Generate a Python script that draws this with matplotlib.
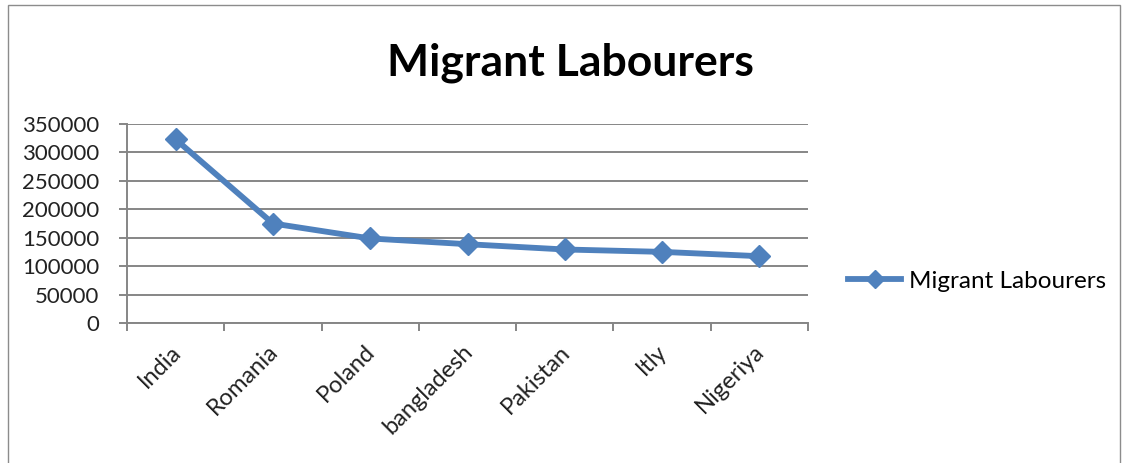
import matplotlib
matplotlib.use("Agg")
import matplotlib.pyplot as plt
import matplotlib.patches as patches
import numpy as np

countries = ["India", "Romania", "Poland", "bangladesh", "Pakistan", "Itly", "Nigeriya"]
labourers = [323000, 175000, 148700, 138600, 129300, 125100, 117500]
yticks = [0, 50000, 100000, 150000, 200000, 250000, 300000, 350000]

C_LINE = "#4F81BD"
C_GRID = "#868686"
plt.rcParams["font.family"] = ["Lato", "DejaVu Sans"]

fig = plt.figure(figsize=(11.26, 4.63), dpi=100)
ax = fig.add_axes([127/1126, 1 - 323/463, (808 - 127)/1126, (323 - 124)/463])

x = np.arange(len(countries))
ax.plot(x, labourers, color=C_LINE, lw=4.2, marker="D", ms=11,
        label="Migrant Labourers", zorder=3)

ax.set_xlim(-0.5, len(countries) - 0.5)
ax.set_ylim(0, 350000)
ax.set_yticks(yticks)
ax.set_yticklabels([str(v) for v in yticks], fontsize=16, color="#222222")
ax.yaxis.grid(True, color=C_GRID, lw=1.4)
ax.set_axisbelow(True)

# category labels centred, tick marks between categories (Excel style)
ax.set_xticks(x - 0.06)
ax.set_xticklabels(countries, rotation=45, ha="right", rotation_mode="anchor",
                   fontsize=17, color="#222222")
ax.tick_params(axis="x", length=0, pad=13)
ax.set_xticks(np.arange(-0.5, len(countries)), minor=True)
ax.tick_params(axis="x", which="minor", length=6, width=1.4, color=C_GRID)
ax.tick_params(axis="y", length=6, width=1.4, color=C_GRID, pad=14)

for s in ["top", "right"]:
    ax.spines[s].set_visible(False)
ax.spines["left"].set_color(C_GRID)
ax.spines["left"].set_linewidth(1.4)
ax.spines["bottom"].set_color(C_GRID)
ax.spines["bottom"].set_linewidth(1.4)

fig.text(570/1126, 1 - 63/463, "Migrant Labourers", ha="center", va="center",
         fontsize=32, fontweight="bold", color="black")

ax.legend(loc="center left", bbox_to_anchor=(848/1126, 1 - 281/463),
          bbox_transform=fig.transFigure, frameon=False, fontsize=17.5,
          borderaxespad=0, borderpad=0,
          handlelength=2.2, handletextpad=0.33, markerscale=0.8)

fig.patches.append(patches.Rectangle((8/1126, -0.01), (1120 - 8)/1126, 1 - 5/463 + 0.01,
                                     transform=fig.transFigure, fill=False,
                                     edgecolor="#8c8c8c", lw=1))

fig.savefig("out.png", dpi=100)
